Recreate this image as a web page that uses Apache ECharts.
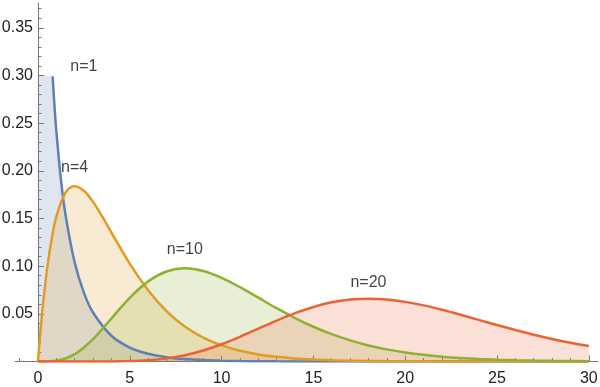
<!DOCTYPE html>
<html><head><meta charset="utf-8">
<script src="https://cdn.jsdelivr.net/npm/echarts@6/dist/echarts.min.js"></script>
<style>html,body{margin:0;padding:0;background:#fff}#c{width:600px;height:387px}</style>
</head><body><div id="c"></div>
<script>
// ---- data ----
const n1X = [0.8,0.9,1,1.25,1.5,2,2.5,3,4,5,6,7,8,9,10,11,12,13,14,15,16,17,18,19,20,22,24,26,28,30];
const n1Y = [0.299,0.268,0.242,0.191,0.1539,0.1038,0.0723,0.0514,0.0270,0.01464,0.00811,0.00455,0.00258,0.00148,0.00085,0.00049,0.000285,0.000166,0.000097,0.000057,0.000034,0.00002,0.000012,0.000007,0.000004,0,0,0,0,0];
const n1CapY = 0.30; // clipped top of the n=1 fill near x=0
const n4X = [0,0.25,0.5,0.75,1,1.5,2,2.5,3,3.5,4,5,6,7,8,9,10,11,12,13,14,15,16,17,18,19,20,21,22,23,24,25,26,27,28,29,30];
const n4Y = [0,0.0552,0.0974,0.1289,0.1516,0.1771,0.1839,0.1791,0.1674,0.1521,0.1353,0.1026,0.0747,0.0528,0.0366,0.0250,0.01684,0.01124,0.00744,0.00489,0.00319,0.00207,0.00134,0.00086,0.00056,0.00036,0.00023,0.000145,0.000092,0.000058,0.000037,0.000023,0.000015,0.000009,0.000006,0.000004,0.000002];
const xInt = [0,1,2,3,4,5,6,7,8,9,10,11,12,13,14,15,16,17,18,19,20,21,22,23,24,25,26,27,28,29,30];
const n10Y = [0,0.00079,0.00766,0.02353,0.04511,0.0668,0.08402,0.09441,0.09769,0.0949,0.08773,0.07791,0.06693,0.05591,0.04561,0.03646,0.02863,0.02213,0.01687,0.0127,0.00946,0.00697,0.00509,0.00369,0.00265,0.0019,0.00134,0.00095,0.00067,0.00046,0.00032];
const n20Y = [0,0,0.0000005,0.0000118,0.0000954,0.000431,0.00135,0.00328,0.00661,0.01158,0.01813,0.02593,0.03442,0.04291,0.0507,0.05722,0.06204,0.06493,0.06587,0.065,0.06255,0.05886,0.05426,0.0491,0.04368,0.03826,0.03303,0.02814,0.02367,0.01969,0.0162];
const curveNames = ['n=1','n=4','n=10','n=20'];
const labelPos = [[2.5,0.309],[2.0,0.203],[8.0,0.117],[18.0,0.0825]];
const xMajor = [0,5,10,15,20,25,30];
const xMinor = [-1,1,2,3,4,6,7,8,9,11,12,13,14,16,17,18,19,21,22,23,24,26,27,28,29];
const yMajor = [0.05,0.10,0.15,0.20,0.25,0.30,0.35];
const yMinor = [];
for (let k = 1; k <= 37; k++) { if (k % 5 !== 0) yMinor.push(k / 100); }

// ---- chart ----
const colors = ['#5E81B5','#E19C24','#8FB032','#EB6235'];
const zip = (xs, ys) => xs.map((x, i) => [x, ys[i]]);
const XMIN = -1.25, XMAX = 30.5, YMAX = 0.376;
const axisColor = '#777';
const font = '"Liberation Sans", Arial, sans-serif';

function areaSeries(data, i) {
  return { type:'line', data, smooth:0.35, showSymbol:false, silent:true,
    lineStyle:{width:0}, areaStyle:{color:colors[i], opacity:0.2}, z:1 };
}
function lineSeries(data, i) {
  return { type:'line', data, smooth:0.35, showSymbol:false, silent:true,
    lineStyle:{width:2.5, color:colors[i]}, z:3 };
}
const d1 = zip(n1X, n1Y), d4 = zip(n4X, n4Y), d10 = zip(xInt, n10Y), d20 = zip(xInt, n20Y);

const series = [
  areaSeries([[0, n1CapY]].concat(d1), 0), lineSeries(d1, 0),
  areaSeries(d4, 1), lineSeries(d4, 1),
  areaSeries(d10, 2), lineSeries(d10, 2),
  areaSeries(d20, 3), lineSeries(d20, 3),
  { type:'scatter', symbolSize:0, silent:true, z:5,
    data: labelPos.map((p, i) => ({ value:p, name:curveNames[i] })),
    label:{ show:true, position:'inside', formatter:p => p.name, color:'#111', fontSize:16, fontFamily:font } }
];

const chart = echarts.init(document.getElementById('c'));
chart.setOption({
  animation:false,
  grid:{ left:15, right:2, top:3, bottom:25.5, containLabel:false, outerBoundsMode:'none' },
  xAxis:[
    { type:'value', min:XMIN, max:XMAX, position:'bottom',
      axisLine:{ show:true, onZero:true, lineStyle:{ color:axisColor, width:1 } },
      axisTick:{ show:true, inside:true, length:6, customValues:xMajor, lineStyle:{ color:axisColor } },
      axisLabel:{ show:true, customValues:xMajor, margin:9, color:'#222', fontSize:16, fontFamily:font },
      splitLine:{ show:false } },
    { type:'value', min:XMIN, max:XMAX, position:'bottom',
      axisLine:{ show:false },
      axisTick:{ show:true, inside:true, length:3.5, customValues:xMinor, lineStyle:{ color:axisColor } },
      axisLabel:{ show:false }, splitLine:{ show:false } }
  ],
  yAxis:[
    { type:'value', min:0, max:YMAX, position:'left',
      axisLine:{ show:true, onZero:true, lineStyle:{ color:axisColor, width:1 } },
      axisTick:{ show:true, inside:true, length:6, customValues:yMajor, lineStyle:{ color:axisColor } },
      axisLabel:{ show:true, customValues:yMajor, margin:-18, color:'#222', fontSize:16, fontFamily:font,
        formatter: v => v.toFixed(2) },
      splitLine:{ show:false } },
    { type:'value', min:0, max:YMAX, position:'left',
      axisLine:{ show:false, onZero:true },
      axisTick:{ show:true, inside:true, length:3.5, customValues:yMinor, lineStyle:{ color:axisColor } },
      axisLabel:{ show:false }, splitLine:{ show:false } }
  ],
  series
});
</script></body></html>
